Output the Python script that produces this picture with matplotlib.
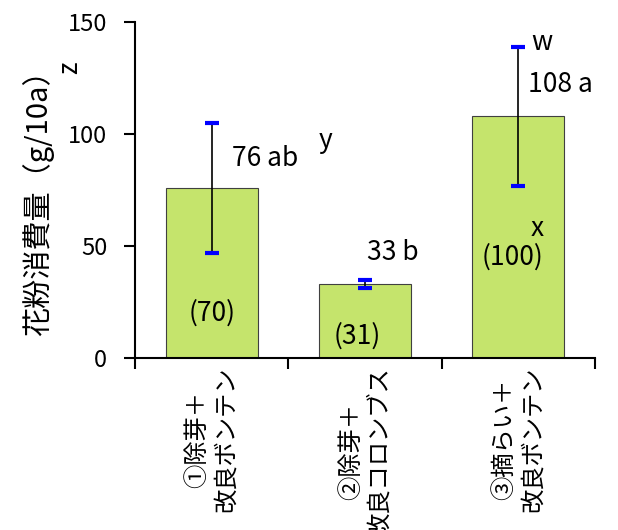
import matplotlib
matplotlib.use("Agg")
import matplotlib.pyplot as plt

plt.rcParams['font.family'] = ['Noto Sans CJK JP', 'DejaVu Sans']

categories = ["①除芽＋\n改良ボンテン", "②除芽＋\n改良コロンブス", "③摘らい＋\n改良ボンテン"]
means = [76, 33, 108]
errors = [29, 1.8, 31]
value_labels = ["76 ab", "33 b", "108 a"]
counts = ["(70)", "(31)", "(100)"]

fig = plt.figure(figsize=(6.18, 5.30), dpi=100)
ax = fig.add_axes([135/618, 1 - 358/530, (595 - 135)/618, (358 - 22)/530])

x = list(range(len(categories)))
ax.bar(x, means, width=0.6, color='#c5e46c', edgecolor='#404040', linewidth=0.8, zorder=2)
ax.errorbar(x, means, yerr=errors, fmt='none', ecolor='black', elinewidth=1.2,
            capsize=0, zorder=3)
# blue caps at both ends of each error bar
for xi, m, e in zip(x, means, errors):
    for yv in (m - e, m + e):
        ax.plot([xi - 0.046, xi + 0.046], [yv, yv], color='#0000ff', lw=3,
                solid_capstyle='butt', zorder=4)

ax.set_xlim(-0.5, 2.5)
ax.set_ylim(0, 150)
ax.set_yticks([0, 50, 100, 150])
ax.tick_params(axis='y', labelsize=17, direction='out', length=8, width=1.5, pad=12)
ax.set_xticks([-0.5, 0.5, 1.5, 2.5])
ax.set_xticklabels([])
ax.tick_params(axis='x', direction='out', length=8, width=1.5)
for s in ('top', 'right'):
    ax.spines[s].set_visible(False)
for s in ('left', 'bottom'):
    ax.spines[s].set_linewidth(1.5)

fig.text(38/618, 1 - 196/530, "花粉消費量（g/10a）", fontsize=21, rotation=90,
         ha='center', va='center')

# category labels, rotated
for xi, lab in zip(x, categories):
    ax.text(xi, -0.025, lab, transform=ax.get_xaxis_transform(), rotation=90,
            ha='center', va='top', multialignment='center', fontsize=17.5,
            linespacing=1.12)

# value / significance labels
fs = 19
ax.text(0.133, 89, value_labels[0], fontsize=fs, ha='left', va='center')
ax.text(1.013, 47, value_labels[1], fontsize=fs, ha='left', va='center')
ax.text(2.064, 122, value_labels[2], fontsize=fs, ha='left', va='center')

# sample counts
ax.text(0.0, 20, counts[0], fontsize=fs, ha='center', va='center')
ax.text(0.948, 10, counts[1], fontsize=fs, ha='center', va='center')
ax.text(1.96, 45, counts[2], fontsize=fs, ha='center', va='center')

# letter marks
ax.text(0.74, 97, "y", fontsize=fs, ha='center', va='center')
ax.text(2.155, 141, "w", fontsize=fs, ha='center', va='center')
ax.text(2.12, 58, "x", fontsize=fs, ha='center', va='center')
fig.text(70/618, 1 - 68/530, "z", fontsize=fs, rotation=90, ha='center', va='center')

fig.savefig("out.png", dpi=100)
